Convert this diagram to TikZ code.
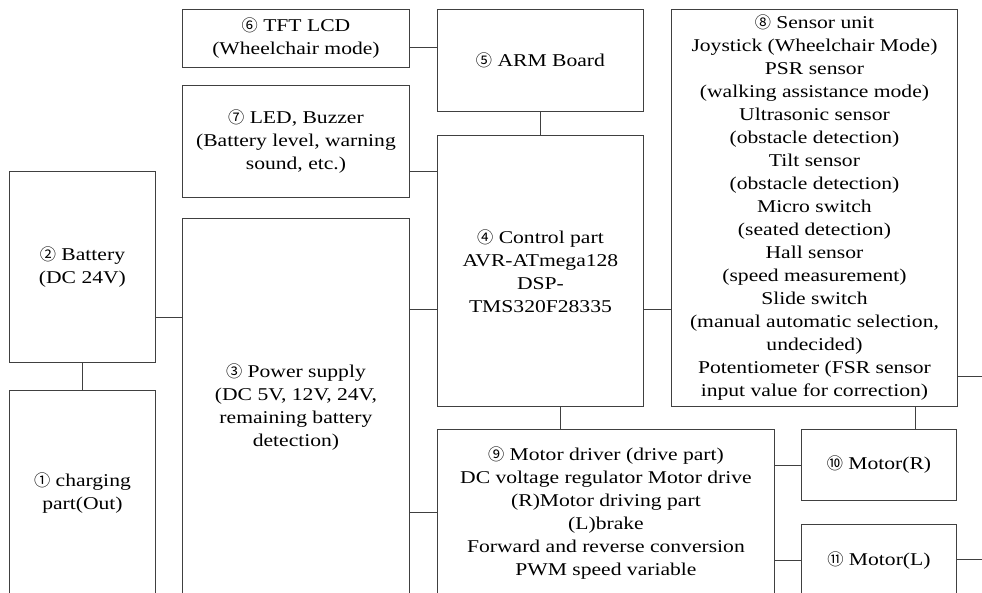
\documentclass[tikz,border=0pt]{standalone}
\usepackage{fontspec}
\setmainfont{Liberation Serif}[FakeStretch=1.2]
\newfontfamily\numfont{Noto Sans CJK KR}[Scale=0.9]
\newcommand{\circnum}[1]{{\numfont #1}}
\tikzset{
  blk/.style={draw=black!75, line width=0.9pt, align=center, inner sep=0pt,
    anchor=north west, font=\fontsize{18}{23}\selectfont},
  wire/.style={draw=black!75, line width=0.9pt}
}
\begin{document}
\begin{tikzpicture}[x=1pt, y=-1pt]
            \clip (0,0) rectangle (982,592);
            % power side
            \node[blk, minimum width=146, minimum height=191] (bat) at (9,171) {\circnum{②} Battery\\(DC 24V)};
            \node[blk, minimum width=146, minimum height=206] (chg) at (9,390) {\circnum{①} charging\\part(Out)};
            \node[blk, minimum width=227, minimum height=378] (pwr) at (182,218) {\circnum{③} Power supply\\(DC 5V, 12V, 24V,\\remaining battery\\detection)};
            % display and control
            \node[blk, minimum width=227, minimum height=58] (tft) at (182,9) {\circnum{⑥} TFT LCD\\(Wheelchair mode)};
            \node[blk, minimum width=227, minimum height=112] (led) at (182,85) {\circnum{⑦} LED, Buzzer\\(Battery level, warning\\sound, etc.)};
            \node[blk, minimum width=206, minimum height=102] (arm) at (437,9) {\circnum{⑤} ARM Board};
            \node[blk, minimum width=206, minimum height=271] (ctl) at (437,135) {\circnum{④} Control part\\AVR-ATmega128\\DSP-\\TMS320F28335};
            \node[blk, minimum width=286, minimum height=397] (sen) at (671,9) {\circnum{⑧} Sensor unit\\Joystick (Wheelchair Mode)\\PSR sensor\\(walking assistance mode)\\Ultrasonic sensor\\(obstacle detection)\\Tilt sensor\\(obstacle detection)\\Micro switch\\(seated detection)\\Hall sensor\\(speed measurement)\\Slide switch\\(manual automatic selection,\\undecided)\\Potentiometer (FSR sensor\\input value for correction)};
            % drive side
            \node[blk, minimum width=337, minimum height=167] (drv) at (437,429) {\circnum{⑨} Motor driver (drive part)\\DC voltage regulator Motor drive\\(R)Motor driving part\\(L)brake\\Forward and reverse conversion\\PWM speed variable};
            \node[blk, minimum width=155, minimum height=71] (mr) at (801,429) {\circnum{⑩} Motor(R)};
            \node[blk, minimum width=155, minimum height=72] (ml) at (801,524) {\circnum{⑪} Motor(L)};
            \coordinate (senout) at (982,376);
            \coordinate (mlout) at (982,559);
            % wiring
            \draw[wire] (bat) -- (chg);
            \draw[wire] (bat.east |- 0,317) -- (pwr.west |- 0,317);
            \draw[wire] (pwr.east |- 0,309) -- (ctl.west |- 0,309);
            \draw[wire] (pwr.east |- 0,512) -- (drv.west |- 0,512);
            \draw[wire] (tft.east |- 0,47) -- (arm.west |- 0,47);
            \draw[wire] (led.east |- 0,171) -- (ctl.west |- 0,171);
            \draw[wire] (arm) -- (ctl);
            \draw[wire] (ctl.east |- 0,309) -- (sen.west |- 0,309);
            \draw[wire] (ctl.south -| 560,0) -- (drv.north -| 560,0);
            \draw[wire] (sen.south -| 915,0) -- (mr.north -| 915,0);
            \draw[wire] (drv.east |- mr) -- (mr);
            \draw[wire] (drv.east |- ml) -- (ml);
            \draw[wire] (sen.east |- senout) -- (senout);
            \draw[wire] (ml.east |- mlout) -- (mlout);
\end{tikzpicture}
\end{document}
